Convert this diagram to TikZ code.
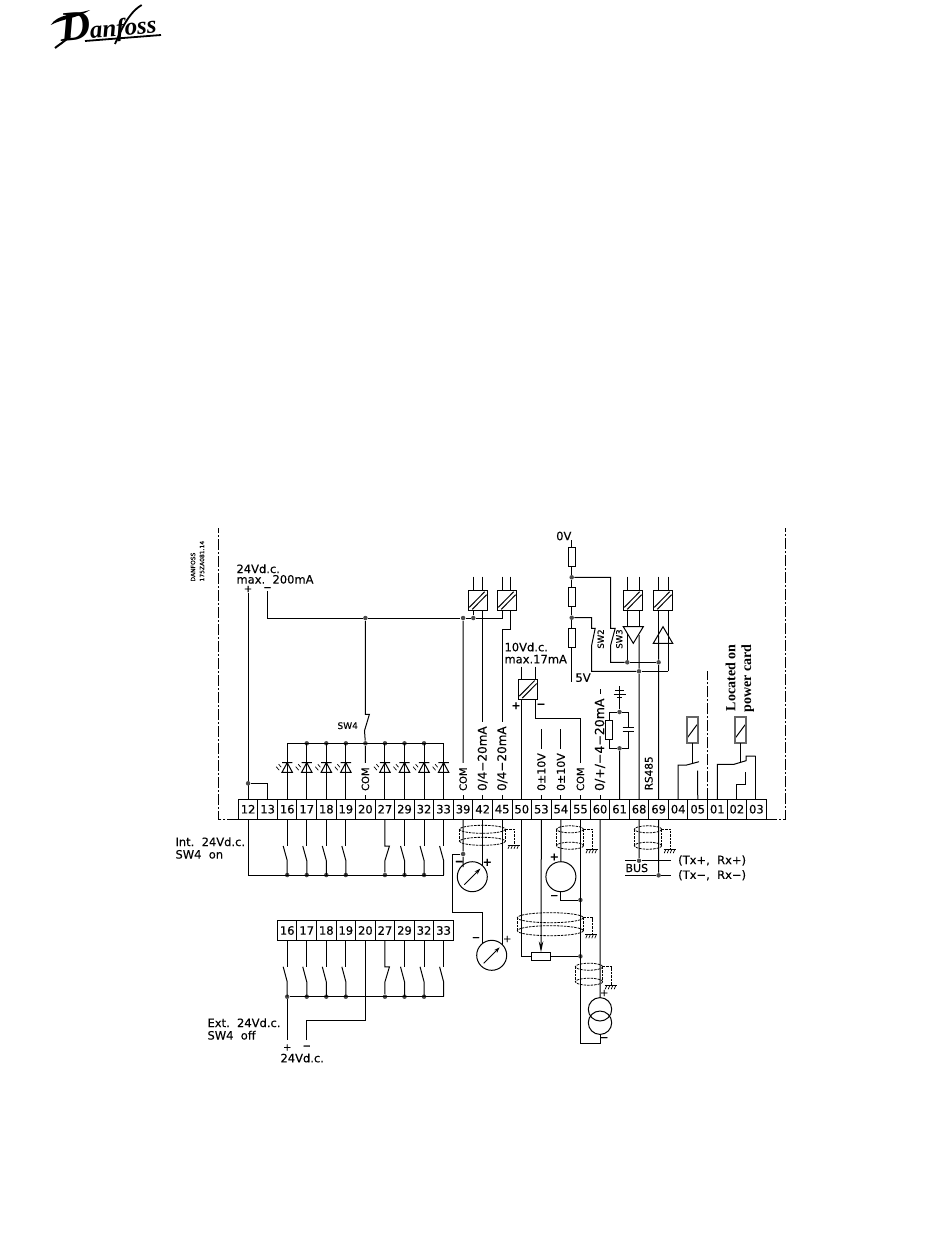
\documentclass[tikz,border=0pt]{standalone}
\usepackage{fontspec}
\setmainfont[FakeBold=0.2]{DejaVu Sans}
\newfontfamily\seriffont{Liberation Serif}
\usetikzlibrary{positioning,arrows.meta}

% cable screen with its earth: x centre, top, bottom, x radius, y radius
\newcommand{\screencable}[5]{
  \draw[screen] (#1,#2) ellipse [x radius=#4,y radius=#5];
  \draw[screen] (#1,#3) ellipse [x radius=#4,y radius=#5];
  \draw[screen] ({#1-#4},#2) -- ({#1-#4},#3);
  \draw[screen] ({#1+#4},#2) -- ({#1+#4},#3);
  \draw[screen] ({#1+#4},#2) -- ({#1+#4+9},#2) -- ({#1+#4+9},{#3+3});
  \draw[line width=.7pt] ({#1+#4+2},{#3+4}) -- ({#1+#4+14},{#3+4});
  \foreach \h in {4,7,10,13} {\draw[line width=.7pt] ({#1+#4+\h},{#3+4}) -- ++(-1.5,3.5);}
}

\begin{document}
\begin{tikzpicture}
    [x=1pt,y=-1pt,line width=1pt,
     term/.style={rectangle,draw,minimum width=19.55pt,minimum height=19.6pt,inner sep=0pt,outer sep=0pt,font=\fontsize{11.5}{12}\selectfont},
     lbl/.style={inner sep=0pt,anchor=west,align=left,font=\fontsize{11.5}{10.5}\selectfont},
     rotlbl/.style={rotate=90,anchor=west,inner xsep=4pt,inner ysep=0pt,font=\fontsize{12}{12}\selectfont},
     sign/.style={inner sep=0pt,font=\fontsize{10}{10}\selectfont},
     boldsign/.style={inner sep=0pt,font=\fontsize{11}{11}\bfseries\selectfont},
     dot/.style={circle,fill=black!70,inner sep=0pt,minimum size=4.5pt},
     iso/.style={rectangle,draw,fill=white,minimum width=19.4pt,minimum height=19.6pt,inner sep=0pt,outer sep=0pt,
       path picture={
         \draw ([xshift=1pt,yshift=3pt]path picture bounding box.south west) -- ([xshift=-3pt,yshift=-1pt]path picture bounding box.north east);
         \draw ([xshift=4pt,yshift=1pt]path picture bounding box.south west) -- ([xshift=-1pt,yshift=-4pt]path picture bounding box.north east);}},
     res/.style={rectangle,draw,fill=white,minimum width=7.3pt,minimum height=19pt,inner sep=0pt,outer sep=0pt},
     coil/.style={rectangle,draw=black!60,line width=1.7pt,minimum width=11.3pt,minimum height=26.6pt,inner sep=0pt,outer sep=0pt,
       path picture={\draw[black,line width=1pt] ([xshift=1pt,yshift=6pt]path picture bounding box.south west) -- ([xshift=-1pt,yshift=-8pt]path picture bounding box.north east);}},
     meter/.style={circle,draw,minimum size=30pt,inner sep=0pt,outer sep=0pt,
       path picture={\draw[-{Stealth[length=6pt,width=4pt]}] ([shift={(-8,8)}]path picture bounding box.center) -- ([shift={(8,-8)}]path picture bounding box.center);}},
     source/.style={circle,draw,minimum size=30pt,inner sep=0pt,outer sep=0pt},
     ring/.style={circle,draw,minimum size=23.4pt,inner sep=0pt,outer sep=0pt},
     frameline/.style={line width=1pt,dash pattern=on 11pt off 2pt on 2pt off 2pt},
     screen/.style={line width=.8pt,dash pattern=on 2.5pt off 1pt},
     led/.pic={
       \draw (-5.2,0) -- (5.2,0) (-5.2,9.6) -- (5.2,9.6) -- (0,0) -- cycle;
       \draw[line width=.7pt] (-8.5,1.5) -- (-6,4.5) (-11,4) -- (-8,7.5);}]

    \useasboundingbox (0,0) rectangle (950,1248);

    % logo
    \node[inner sep=0pt,anchor=west,rotate=5] (logo) at (60,30)
      {\seriffont\bfseries\itshape{\fontsize{42}{42}\selectfont D}{\fontsize{25}{25}\selectfont\kern-1pt anfoss}};
    \fill (50.7,25) .. controls (58,14) and (72,15) .. (90,10) .. controls (76,19) and (64,18) .. (50.7,25) -- cycle;
    \draw[line width=1.8pt] (85,41) -- (161,35);
    \draw[line width=1.8pt] (141.7,5) .. controls (133,10) and (125,20) .. (115,44);
    \draw[line width=2pt] (70,36) .. controls (64,42) and (60,44) .. (55,48);

    % main terminal strip
    \node[term] (t12) at (248.1,809.2) {12};
    \node[term] (t13) [right=0pt of t12] {13};
    \node[term] (t16) [right=0pt of t13] {16};
    \node[term] (t17) [right=0pt of t16] {17};
    \node[term] (t18) [right=0pt of t17] {18};
    \node[term] (t19) [right=0pt of t18] {19};
    \node[term] (t20) [right=0pt of t19] {20};
    \node[term] (t27) [right=0pt of t20] {27};
    \node[term] (t29) [right=0pt of t27] {29};
    \node[term] (t32) [right=0pt of t29] {32};
    \node[term] (t33) [right=0pt of t32] {33};
    \node[term] (t39) [right=0pt of t33] {39};
    \node[term] (t42) [right=0pt of t39] {42};
    \node[term] (t45) [right=0pt of t42] {45};
    \node[term] (t50) [right=0pt of t45] {50};
    \node[term] (t53) [right=0pt of t50] {53};
    \node[term] (t54) [right=0pt of t53] {54};
    \node[term] (t55) [right=0pt of t54] {55};
    \node[term] (t60) [right=0pt of t55] {60};
    \node[term] (t61) [right=0pt of t60] {61};
    \node[term] (t68) [right=0pt of t61] {68};
    \node[term] (t69) [right=0pt of t68] {69};
    \node[term] (t04) [right=0pt of t69] {04};
    \node[term] (t05) [right=0pt of t04] {05};
    \node[term] (t01) [right=0pt of t05] {01};
    \node[term] (t02) [right=0pt of t01] {02};
    \node[term] (t03) [right=0pt of t02] {03};

    % second strip
    \node[term] (e16) at (287.2,930.5) {16};
    \node[term] (e17) [right=0pt of e16] {17};
    \node[term] (e18) [right=0pt of e17] {18};
    \node[term] (e19) [right=0pt of e18] {19};
    \node[term] (e20) [right=0pt of e19] {20};
    \node[term] (e27) [right=0pt of e20] {27};
    \node[term] (e29) [right=0pt of e27] {29};
    \node[term] (e32) [right=0pt of e29] {32};
    \node[term] (e33) [right=0pt of e32] {33};

    % frame
    \draw[frameline] (t12.south west) -- (218.3,819) -- (218.3,528);
    \draw[frameline] (t03.south east) -- (785.3,819) -- (785.3,528);
    \draw[frameline] (t05.north east) -- ++(0,-128);

    % texts
    \node[inner sep=0pt,anchor=west,rotate=90,font=\fontsize{6}{6}\selectfont] (stamp1) at (193,582) {DANFOSS};
    \node[inner sep=0pt,anchor=west,rotate=90,font=\fontsize{6}{6}\selectfont] (stamp2) at (202,582) {175ZA081.14};
    \node[lbl] (supply) at (236,574) {24Vd.c.\\max.\ \ 200mA};
    \node[lbl,font=\fontsize{11.5}{12}\selectfont] (refsup) at (504,653) {10Vd.c.\\max.17mA};
    \node[lbl,font=\fontsize{9}{9}\selectfont] (sw4) at (337,725.7) {SW4};
    \node[lbl,align=left,font=\fontsize{11.5}{12.5}\selectfont] (intlbl) at (175,848) {Int.\ \ 24Vd.c.\\SW4\ \ on};
    \node[lbl,align=left,font=\fontsize{11.5}{12.5}\selectfont] (extlbl) at (207,1029) {Ext.\ \ 24Vd.c.\\SW4\ \ off};
    \node[lbl,font=\fontsize{11.5}{11}\selectfont] (extvolt) at (280,1058) {24Vd.c.};
    \node[lbl,font=\fontsize{11.5}{12}\selectfont] (ov) at (555.7,536) {0V};
    \node[lbl,font=\fontsize{11.5}{12}\selectfont] (fivev) at (575,677.7) {5V};
    \node[lbl,font=\fontsize{11}{11}\selectfont] (bus) at (625,868) {BUS};
    \node[lbl,font=\fontsize{11.5}{12}\selectfont] (txp) at (677.7,860.5) {(Tx+,\ \ Rx+)};
    \node[lbl,font=\fontsize{11.5}{12}\selectfont] (txm) at (677.7,875.3) {(Tx−,\ \ Rx−)};
    \node[inner sep=0pt,rotate=90,anchor=east,font=\seriffont\bfseries\fontsize{14}{14}\selectfont] (located) at (730.7,644) {Located on};
    \node[inner sep=0pt,rotate=90,anchor=east,font=\seriffont\bfseries\fontsize{14}{14}\selectfont] (power) at (747.7,644) {power card};
    \node[rotate=90,inner sep=0pt,font=\fontsize{8.5}{9}\selectfont] (sw2) at (600.7,639) {SW2};
    \node[rotate=90,inner sep=0pt,font=\fontsize{8.5}{9}\selectfont] (sw3) at (619.3,639) {SW3};

    % signs
    \node[sign] (p12) at (248.1,589) {+};
    \node[sign] (m13) at (267.6,589) {−};
    \node[boldsign] (p1) at (459.3,863) {−};
    \node[boldsign] (p2) at (487.3,862.3) {+};
    \node[sign] (p3) at (476,939) {−};
    \node[sign] (p4) at (507.3,939) {+};
    \node[boldsign] (p5) at (554.3,857) {+};
    \node[sign] (p6) at (554.3,897) {−};
    \node[sign] (p7) at (604.3,993) {+};
    \node[sign] (p8) at (604.3,1039) {−};
    \node[boldsign] (p9) at (516,705.7) {+};
    \node[boldsign] (p10) at (541,705.7) {−};
    \node[sign] (p11) at (287.2,1047.5) {+};
    \node[sign] (m11) at (306.7,1047.5) {−};

    % rotated labels above the strip
    \node[rotlbl,font=\fontsize{10}{10}\selectfont] (com20) at ([yshift=4pt]t20.north) {COM};
    \node[rotlbl,font=\fontsize{10}{10}\selectfont] (com39) at ([yshift=4pt]t39.north) {COM};
    \node[rotlbl] (ma42) at ([yshift=4pt]t42.north) {0/4−20mA};
    \node[rotlbl] (ma45) at ([yshift=4pt]t45.north) {0/4−20mA};
    \node[rotlbl,font=\fontsize{11}{11}\selectfont] (v53) at ([yshift=4pt]t53.north) {0±10V};
    \node[rotlbl,font=\fontsize{11}{11}\selectfont] (v54) at ([yshift=4pt]t54.north) {0±10V};
    \node[rotlbl,font=\fontsize{10}{10}\selectfont] (com55) at ([yshift=4pt]t55.north) {COM};
    \node[rotlbl,font=\fontsize{12.5}{12.5}\selectfont] (ma60) at ([yshift=4pt]t60.north) {0/+/−4−20mA};
    \node[rotlbl,font=\fontsize{10.5}{10.5}\selectfont,anchor=center,inner xsep=0pt] (rs485) at (648.8,773.3) {RS485};

    % isolators
    \node[iso] (iso1) at (478,600.5) {};
    \node[iso] (iso2) at (507,600.5) {};
    \node[iso] (iso3) at (633,600.5) {};
    \node[iso] (iso4) at (663,600.5) {};
    \node[iso] (iso5) at (528,689.3) {};
    \foreach \i/\a/\b in {iso1/473.3/482.7,iso2/502.7/510.7,iso3/627.3/639,iso4/658.6/668.3} {
      \draw (\a,576.7) -- (\i.north -| \a,0);
      \draw (\b,576.7) -- (\i.north -| \b,0);
    }
    \draw (521.8,666.7) -- (iso5.north -| 521.8,0);
    \draw (535,666.7) -- (iso5.north -| 535,0);

    % supply rail and SW4
    \draw (p12.south) -- (t12.north);
    \node[dot] (d12) at (248.1,783.3) {};
    \draw (d12) -| (t13.north);
    \node[dot] (d20) at (365.4,618) {};
    \node[dot] (d39) at (463.1,618) {};
    \node[dot] (d41) at (473.3,618) {};
    \coordinate (rail) at (502.7,618);
    \draw (m13.south) |- (d20);
    \draw (d20) -- (d39) -- (d41) -- (rail) -- (rail |- iso2.south);
    \draw (d41) -- (d41 |- iso1.south);
    \draw (d39) -- (com39.east);
    \draw (t39.north) -- (com39.west);
    \draw (t42 |- iso1.south) -- (ma42.east);
    \draw (t42.north) -- (ma42.west);
    \coordinate (iso2out) at (510.7,629.3);
    \draw (iso2out |- iso2.south) -- (iso2out) -| (ma45.east);
    \draw (t45.north) -- (ma45.west);

    \node[dot] (b20) at (365.4,743.3) {};
    \draw (d20) -- (365.4,714.3) -- ++(4,0) -- (364.5,730.7) -- (b20);
    \draw (b20) -- (com20.east);
    \draw (t20.north) -- (com20.west);

    % LED row
    \foreach \n in {17,18,19,27,29,32} {\node[dot] (b\n) at (t\n |- b20) {};}
    \draw (t16 |- b20) -- (t33 |- b20);
    \foreach \n in {16,17,18,19,27,29,32,33} {
      \draw (t\n |- b20) -- (t\n.north);
      \pic at (t\n |- 0,762.7) {led};
    }

    % lower switches of the main strip
    \coordinate (lowbus) at (248.1,875);
    \foreach \n in {16,17,18,19,29,32} {\node[dot] (l\n) at (t\n |- lowbus) {};}
    \node[dot] (l27) at (t27 |- lowbus) {};
    \draw (t12.south) |- (t33 |- lowbus);
    \foreach \n in {16,17,18,19,29,32,33} {
      \coordinate (ka\n) at ([yshift=-27pt]t\n.south);
      \coordinate (kb\n) at ([yshift=-41.5pt]t\n.south);
      \draw (t\n.south) -- (ka\n);
      \draw (ka\n) ++(-4,0) -- (kb\n) -- (kb\n |- lowbus);
    }
    \coordinate (ka27) at ([yshift=-27pt]t27.south);
    \coordinate (kb27) at ([yshift=-41.5pt]t27.south);
    \draw (t27.south) -- (ka27) -- ++(4.5,0) -- (kb27) -- (l27);

    % switches of the second strip
    \coordinate (extbus) at (287.2,996.7);
    \foreach \n in {16,17,18,19,29,32} {\node[dot] (x\n) at (e\n |- extbus) {};}
    \node[dot] (x27) at (e27 |- extbus) {};
    \draw (x16) -- (e33 |- extbus);
    \foreach \n in {16,17,18,19,29,32,33} {
      \coordinate (ea\n) at ([yshift=-26.5pt]e\n.south);
      \coordinate (eb\n) at ([yshift=-41.5pt]e\n.south);
      \draw (e\n.south) -- (ea\n);
      \draw (ea\n) ++(-4,0) -- (eb\n) -- (eb\n |- extbus);
    }
    \coordinate (ea27) at ([yshift=-26.5pt]e27.south);
    \coordinate (eb27) at ([yshift=-41.5pt]e27.south);
    \draw (e27.south) -- (ea27) -- ++(4.5,0) -- (eb27) -- (x27);
    \coordinate (pin1) at (287.2,1040);
    \coordinate (pin2) at (306.7,1040);
    \draw (x16) -- (pin1);
    \coordinate (extret) at (306.7,1020);
    \draw (pin2) -- (extret) -| (e20.south);

    % meters
    \node[meter] (meter1) at (472.3,876.7) {};
    \node[meter] (meter2) at (491.7,955.3) {};
    \node[dot] (c39) at (463.1,854) {};
    \coordinate (r39) at (452.7,912.7);
    \draw (t39.south) -- (c39) -- (c39 |- meter1.140);
    \draw (c39) -| (r39) -| (meter2.127);
    \draw (t42.south) -- (t42 |- meter1.46);
    \draw (t45.south) -- (t45 |- meter2.46);
    \screencable{482.5}{829.3}{841.3}{23}{4}

    % 54, 55, potentiometer, current source
    \node[source] (src54) at (560.9,876.7) {};
    \node[dot] (c55) at (580.4,900) {};
    \draw (t54.south) -- (src54.north);
    \draw (src54.south) |- (c55);
    \screencable{570}{829.3}{845.7}{13.5}{3.5}

    \node[rectangle,draw,minimum width=19.4pt,minimum height=8pt,inner sep=0pt,outer sep=0pt] (pot) at (541,956.3) {};
    \node[dot] (p55) at (580.4,956.3) {};
    \draw (t50.south) |- (pot.west);
    \draw (pot.east) -- (p55);
    \draw[-{Stealth[length=11pt,width=4.5pt]}] (t53.south) -- (pot.north);
    \screencable{550.3}{917.7}{930.7}{33}{5}

    \node[ring] (ring1) at (600,1009.3) {};
    \node[ring] (ring2) at (600,1022.7) {};
    \coordinate (ret) at (600,1043.3);
    \draw (t60.south) -- (ring1.north);
    \draw (ring2.south) -- (ret) -| (t55.south);
    \screencable{589}{966.7}{981.7}{13.7}{3.5}

    % bus
    \node[dot] (c68) at (639,860.7) {};
    \node[dot] (c69) at (658.6,875.3) {};
    \draw (625,860.7) -- (c68) -- (670.7,860.7);
    \draw (625,875.3) -- (c69) -- (670.7,875.3);
    \draw (t68.south) -- (c68);
    \draw (t69.south) -- (c69);
    \screencable{648}{829.3}{845.7}{13.7}{3.5}

    % reference supply
    \draw (t50.north) -- (iso5.south -| t50);
    \coordinate (refret) at (535,718.7);
    \draw (refret |- iso5.south) -- (refret) -| (com55.east);
    \draw (t55.north) -- (com55.west);
    \draw (v53.east) -- ++(0,-19.5);
    \draw (t53.north) -- (v53.west);
    \draw (v54.east) -- ++(0,-19.5);
    \draw (t54.north) -- (v54.west);
    \draw (ma60.east) -- ++(0,-5);
    \draw (t60.north) -- (ma60.west);

    % divider
    \coordinate (vtop) at (571.7,540);
    \coordinate (vbot) at (571.7,681.7);
    \node[res] (r1) at (571.7,556.8) {};
    \node[res] (r2) at (571.7,597.2) {};
    \node[res] (r3) at (571.7,637.8) {};
    \node[dot] (d1) at (571.7,577.3) {};
    \node[dot] (d2) at (571.7,617.7) {};
    \draw (vtop) -- (r1.north);
    \draw (r1.south) -- (d1) -- (r2.north);
    \draw (r2.south) -- (d2) -- (r3.north);
    \draw (r3.south) -- (vbot);

    % SW2, SW3, drivers
    \coordinate (sw3a) at (610.7,628.3);
    \coordinate (sw3b) at (610.7,645);
    \coordinate (sw2a) at (591.7,628.3);
    \coordinate (sw2b) at (591.7,645);
    \node[dot] (n1) at (627.3,662.3) {};
    \node[dot] (n2) at (658.6,662.3) {};
    \node[dot] (n3) at (639,671.3) {};
    \coordinate (n4) at (668.3,671.3);
    \draw (d1) -| (sw3a) -- ++(4.5,0) -- (sw3b) |- (n1);
    \draw (n1) -- (n2);
    \draw (d2) -| (sw2a) -- ++(3.5,0) -- (sw2b) |- (n3);
    \draw (n3) -- (n4);
    \draw (t68.north) -- (n3) -- (639,635);
    \draw (t69.north) -- (n2) -- (658.6,635.8);
    \draw (n1) -- (627.3,633.5);
    \draw (n4) -- (668.3,635.8);
    \draw (627.3,610) -- (627.3,626.7);
    \draw (639,610) -- (639,626.7);
    \draw (658.6,610) -- (658.6,635.8);
    \draw (668.3,610) -- (668.3,635.8);
    \draw (623.3,626.7) -- (643.3,626.7) -- (633.3,643.3) -- cycle;
    \draw (663,626.7) -- (672.7,643.3) -- (653.3,643.3) -- cycle;

    % RC to earth at 61
    \node[dot] (rc1) at (619.5,712) {};
    \node[dot] (rc2) at (619.5,748.3) {};
    \node[res] (rcres) at (609.3,730.4) {};
    \coordinate (capa) at (628.3,727.6);
    \coordinate (capb) at (628.3,731.8);
    \draw (t61.north) -- (rc2);
    \draw (rc1) -| (rcres.north);
    \draw (rc2) -| (rcres.south);
    \draw (rc1) -| (capa);
    \draw (rc2) -| (capb);
    \draw (622.5,727.6) -- (634.3,727.6) (622.5,731.8) -- (634.3,731.8);
    \draw (rc1) -- (619.5,686);
    \draw (615,690) -- (624,690) (613.5,694) -- (625.5,694) (617,697.5) -- (622,697.5);

    % relays
    \node[coil] (coil1) at (692.3,730) {};
    \node[coil] (coil2) at (740.5,730) {};
    \coordinate (k1a) at (686.7,765);
    \coordinate (k1b) at (699,761.7);
    \draw (t04.north) |- (k1a) -- (k1b);
    \draw (t05.north) -- (697.7,770.7);
    \draw (coil1.south) -- (692.3,763.3);
    \coordinate (k2a) at (734,764.3);
    \coordinate (k2b) at (746,760.7);
    \coordinate (k2c) at (755.5,756);
    \draw (t01.north) |- (k2a) -- (k2b) |- (k2c);
    \draw (k2c) -- (k2c |- t03.north);
    \draw (coil2.south) -- (740.5,762);
    \coordinate (k3) at (745.7,784);
    \draw (t02.north) |- (k3) -- ++(0,-12.3);
\end{tikzpicture}
\end{document}
